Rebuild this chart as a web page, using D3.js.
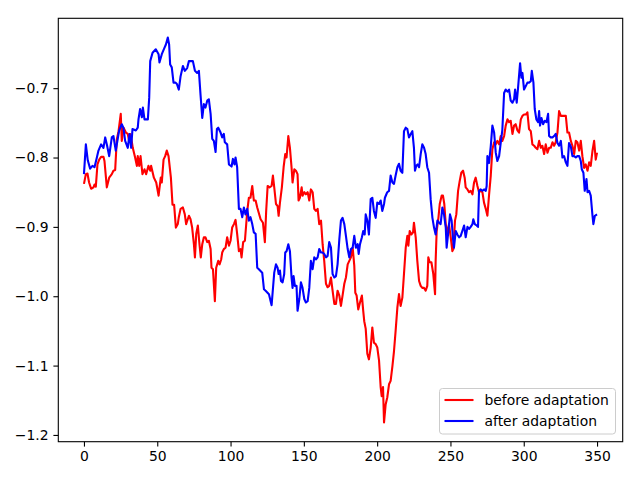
<!DOCTYPE html>
<html>
<head>
<meta charset="utf-8">
<script src="https://cdn.jsdelivr.net/npm/d3@7"></script>
<style>
  body { margin: 0; background: #fff; }
  text { font-family: "DejaVu Sans", sans-serif; }
</style>
</head>
<body>
<div id="chart"></div>
<script>
// red series
var beforeX = [0,1.3,2.4,3.5,4.9,6.5,7.2,8.1,9.2,10.4,11.7,13.3,14.0,15.6,17.2,19.0,20.1,21.3,22.4,23.6,25.1,25.8,27.0,28.6,29.9,30.8,31.5,32.7,33.3,34.9,36.1,36.7,37.7,38.6,39.9,41.3,42.4,44.0,45.2,45.8,47.7,49.3,50.9,52.4,53.1,54.3,55.4,56.5,57.7,59.3,60.4,61.5,62.7,64.0,64.7,65.9,67.5,68.8,69.7,71.6,72.7,73.8,75.0,75.7,76.6,77.7,78.8,79.7,80.7,81.8,82.9,84.1,85.2,86.4,87.0,88.0,89.3,90.2,91.6,92.5,93.6,94.3,95.4,96.6,97.7,98.9,100.0,101.1,102.3,103.4,104.5,105.7,106.8,107.5,108.6,109.8,111.4,112.5,113.6,114.8,115.9,117.1,118.2,120.5,122.1,123.4,124.3,125.3,126.6,128.0,128.9,129.8,131.0,132.1,132.8,133.7,135.0,136.2,137.3,138.2,139.4,140.5,141.6,142.3,143.5,144.6,145.7,146.4,147.3,148.5,149.1,150.3,151.4,152.6,153.7,154.8,156.0,157.1,158.2,159.4,160.5,161.7,162.8,163.9,165.1,166.2,167.3,168.5,169.6,170.8,171.9,173.0,174.2,175.3,176.4,177.6,178.7,179.9,181.0,182.1,183.3,184.4,185.1,186.0,187.1,188.3,189.6,190.5,191.2,192.2,193.3,194.4,195.6,196.7,197.8,199.0,200.1,201.3,202.4,203.1,204.0,204.7,205.8,206.9,208.1,209.2,210.4,211.5,212.6,213.8,214.9,216.0,217.2,218.3,219.5,220.6,221.3,222.2,223.3,224.5,225.1,226.3,227.4,228.6,229.7,230.8,232.0,233.1,234.2,234.9,235.8,237.0,238.3,239.5,239.9,240.6,241.8,242.7,244.0,244.9,245.8,246.8,247.9,249.0,250.2,251.3,252.0,253.1,254.0,255.2,256.3,257.4,258.6,259.7,260.4,261.6,262.7,263.8,265.0,266.1,267.2,268.4,269.5,270.7,271.8,272.9,274.1,275.2,276.3,277.5,278.6,279.8,280.9,282.0,283.2,284.3,285.4,286.6,287.7,288.9,290.0,291.1,292.3,293.4,294.5,295.7,296.8,298.0,299.1,300.2,301.4,302.5,303.6,304.8,305.9,307.1,308.2,309.3,310.5,311.6,312.7,313.9,315.0,316.2,317.3,318.4,319.6,320.7,321.8,323.0,324.1,325.3,326.4,327.5,328.7,329.8,330.9,332.1,333.2,334.4,335.5,336.6,337.8,338.9,340.0,341.2,342.3,343.5,344.6,345.7,346.9,348.0,349.1,350.0];
var beforeY = [-0.838,-0.824,-0.823,-0.836,-0.845,-0.843,-0.839,-0.842,-0.810,-0.803,-0.799,-0.799,-0.805,-0.843,-0.829,-0.824,-0.819,-0.818,-0.774,-0.762,-0.737,-0.776,-0.757,-0.764,-0.766,-0.776,-0.766,-0.778,-0.786,-0.800,-0.812,-0.798,-0.812,-0.798,-0.824,-0.817,-0.824,-0.812,-0.819,-0.812,-0.829,-0.836,-0.855,-0.829,-0.836,-0.803,-0.798,-0.790,-0.798,-0.829,-0.868,-0.868,-0.901,-0.896,-0.886,-0.874,-0.872,-0.882,-0.896,-0.884,-0.889,-0.901,-0.925,-0.944,-0.910,-0.898,-0.925,-0.944,-0.925,-0.915,-0.915,-0.922,-0.920,-0.932,-0.959,-0.961,-1.007,-0.959,-0.949,-0.954,-0.947,-0.937,-0.932,-0.930,-0.915,-0.927,-0.920,-0.901,-0.896,-0.890,-0.910,-0.935,-0.932,-0.944,-0.922,-0.920,-0.877,-0.858,-0.858,-0.841,-0.862,-0.862,-0.872,-0.889,-0.894,-0.922,-0.877,-0.841,-0.843,-0.841,-0.826,-0.843,-0.867,-0.870,-0.884,-0.865,-0.843,-0.814,-0.795,-0.800,-0.769,-0.786,-0.814,-0.836,-0.817,-0.819,-0.824,-0.862,-0.858,-0.843,-0.855,-0.850,-0.853,-0.850,-0.862,-0.846,-0.850,-0.874,-0.877,-0.874,-0.896,-0.891,-0.925,-0.949,-0.982,-0.987,-0.985,-0.973,-0.992,-1.011,-1.011,-0.992,-0.999,-1.014,-0.999,-0.982,-0.973,-0.954,-0.949,-0.944,-0.930,-0.956,-0.995,-0.999,-1.019,-1.009,-0.999,-1.021,-1.036,-1.047,-1.083,-1.091,-1.074,-1.045,-1.067,-1.069,-1.074,-1.093,-1.131,-1.144,-1.131,-1.182,-1.156,-1.146,-1.127,-1.122,-1.101,-1.079,-1.050,-1.016,-0.997,-1.014,-1.002,-0.968,-0.930,-0.913,-0.927,-0.906,-0.911,-0.908,-0.894,-0.915,-0.949,-0.978,-0.985,-0.988,-0.988,-0.992,-0.985,-0.944,-0.951,-0.951,-0.968,-0.997,-0.949,-0.906,-0.887,-0.867,-0.855,-0.855,-0.867,-0.896,-0.911,-0.896,-0.915,-0.935,-0.932,-0.891,-0.882,-0.848,-0.834,-0.822,-0.819,-0.829,-0.843,-0.846,-0.850,-0.848,-0.853,-0.836,-0.829,-0.841,-0.850,-0.848,-0.850,-0.865,-0.874,-0.884,-0.855,-0.826,-0.788,-0.778,-0.781,-0.776,-0.781,-0.769,-0.776,-0.769,-0.754,-0.745,-0.749,-0.747,-0.766,-0.754,-0.752,-0.761,-0.764,-0.745,-0.740,-0.738,-0.738,-0.735,-0.759,-0.762,-0.781,-0.783,-0.786,-0.788,-0.776,-0.786,-0.783,-0.795,-0.781,-0.793,-0.786,-0.786,-0.778,-0.783,-0.778,-0.764,-0.733,-0.740,-0.740,-0.740,-0.740,-0.764,-0.764,-0.776,-0.783,-0.795,-0.776,-0.778,-0.790,-0.776,-0.798,-0.815,-0.810,-0.819,-0.807,-0.812,-0.790,-0.776,-0.803,-0.793];

// blue series
var afterX = [0,1.3,2.6,4.2,5.8,7.2,8.8,9.9,11.7,13.3,14.5,15.8,17.2,19.0,20.1,21.7,24.0,25.8,26.9,28.1,29.9,31.1,32.2,33.1,35.4,36.7,37.2,38.3,39.5,40.2,41.3,43.6,44.5,45.2,46.8,49.0,50.9,51.5,53.1,54.9,55.9,57.2,58.1,58.8,59.9,61.1,62.5,63.4,64.7,65.9,67.5,68.8,70.4,71.6,74.3,75.7,77.2,78.4,79.5,80.7,81.8,82.9,84.1,85.2,86.4,87.5,88.6,89.8,90.7,91.6,93.2,94.3,95.4,96.1,97.7,98.9,100.7,101.6,102.7,103.4,104.5,105.7,106.8,108.0,109.1,110.2,111.4,112.5,113.6,114.8,115.9,117.1,118.2,119.3,121.6,122.8,123.9,126.2,128.0,129.8,131.0,132.1,132.8,133.7,134.4,135.5,136.6,137.3,138.2,139.4,140.5,141.6,142.3,143.0,143.9,145.0,145.7,146.9,148.0,149.1,150.3,151.4,152.6,153.7,154.8,156.0,157.1,158.2,159.4,160.5,161.7,162.8,163.9,165.1,166.2,167.3,168.5,169.6,170.8,171.9,173.0,174.2,175.3,176.4,177.6,178.7,179.9,181.0,182.1,183.3,184.4,185.5,186.7,187.4,188.3,189.6,190.5,191.5,192.2,193.3,194.4,195.6,196.7,197.8,199.0,200.1,201.3,202.4,203.5,204.7,205.3,206.3,206.9,208.1,209.2,210.4,211.5,212.6,213.8,214.9,216.0,217.2,218.3,219.5,220.6,221.7,222.9,224.0,225.1,225.8,226.7,227.6,228.6,229.7,230.8,232.0,233.1,234.2,235.4,236.5,237.7,238.8,239.9,241.1,242.2,243.3,244.5,245.6,246.8,247.4,248.6,249.7,250.8,251.8,252.4,253.6,254.7,255.9,257.0,258.1,259.3,260.4,261.6,262.7,263.8,265.0,265.6,266.6,267.9,268.8,269.5,270.7,271.8,272.9,274.1,274.7,275.2,276.3,277.5,278.6,279.8,280.9,282.0,283.2,284.3,285.4,286.6,287.7,288.9,290.0,291.1,292.3,293.4,294.1,295.2,296.1,297.5,298.4,299.1,300.2,301.4,302.5,303.6,304.8,305.5,306.6,307.5,308.6,309.8,310.5,311.1,312.1,313.2,314.3,315.5,316.6,317.3,318.4,319.6,320.7,321.8,323.0,324.1,325.3,326.4,327.5,328.7,329.8,330.9,332.1,333.2,334.4,335.5,336.6,337.8,338.9,339.6,340.7,341.6,342.8,343.5,344.6,345.7,346.9,347.5,348.5,350.0];
var afterY = [-0.824,-0.781,-0.804,-0.816,-0.812,-0.814,-0.800,-0.790,-0.781,-0.786,-0.771,-0.783,-0.798,-0.771,-0.769,-0.790,-0.761,-0.752,-0.757,-0.776,-0.786,-0.766,-0.786,-0.759,-0.761,-0.757,-0.745,-0.730,-0.742,-0.728,-0.745,-0.745,-0.714,-0.661,-0.649,-0.644,-0.651,-0.663,-0.651,-0.642,-0.637,-0.627,-0.637,-0.666,-0.670,-0.692,-0.692,-0.694,-0.702,-0.683,-0.668,-0.675,-0.671,-0.661,-0.661,-0.675,-0.678,-0.675,-0.709,-0.743,-0.723,-0.728,-0.718,-0.716,-0.737,-0.773,-0.776,-0.792,-0.759,-0.757,-0.764,-0.771,-0.766,-0.778,-0.781,-0.810,-0.813,-0.802,-0.810,-0.800,-0.814,-0.874,-0.874,-0.886,-0.872,-0.882,-0.874,-0.891,-0.886,-0.896,-0.908,-0.910,-0.959,-0.961,-0.966,-0.990,-0.992,-0.997,-1.013,-0.966,-0.954,-0.959,-0.968,-0.963,-0.978,-0.980,-0.968,-0.937,-0.935,-0.925,-0.935,-0.973,-0.988,-0.971,-0.985,-0.985,-1.021,-1.004,-0.980,-0.988,-1.004,-1.009,-1.007,-0.988,-0.949,-0.961,-0.944,-0.947,-0.944,-0.932,-0.937,-0.937,-0.939,-0.944,-0.942,-0.922,-0.930,-0.968,-0.973,-0.971,-0.954,-0.918,-0.891,-0.887,-0.896,-0.913,-0.932,-0.944,-0.932,-0.930,-0.913,-0.930,-0.925,-0.939,-0.925,-0.915,-0.906,-0.911,-0.882,-0.891,-0.911,-0.860,-0.858,-0.877,-0.887,-0.865,-0.867,-0.862,-0.877,-0.867,-0.858,-0.853,-0.850,-0.848,-0.826,-0.836,-0.838,-0.826,-0.814,-0.809,-0.819,-0.822,-0.762,-0.757,-0.759,-0.771,-0.766,-0.762,-0.786,-0.819,-0.812,-0.810,-0.814,-0.795,-0.781,-0.786,-0.795,-0.814,-0.822,-0.860,-0.887,-0.901,-0.911,-0.891,-0.894,-0.896,-0.872,-0.882,-0.901,-0.930,-0.906,-0.882,-0.891,-0.918,-0.930,-0.906,-0.911,-0.915,-0.913,-0.906,-0.898,-0.915,-0.900,-0.903,-0.900,-0.896,-0.889,-0.896,-0.898,-0.900,-0.848,-0.846,-0.848,-0.846,-0.848,-0.841,-0.798,-0.808,-0.784,-0.754,-0.764,-0.793,-0.805,-0.798,-0.779,-0.760,-0.707,-0.702,-0.705,-0.702,-0.718,-0.721,-0.716,-0.702,-0.721,-0.700,-0.664,-0.685,-0.678,-0.702,-0.697,-0.692,-0.692,-0.690,-0.675,-0.692,-0.730,-0.745,-0.749,-0.733,-0.754,-0.743,-0.752,-0.747,-0.749,-0.737,-0.769,-0.771,-0.771,-0.769,-0.766,-0.779,-0.783,-0.776,-0.800,-0.798,-0.807,-0.812,-0.779,-0.784,-0.798,-0.798,-0.800,-0.798,-0.798,-0.805,-0.817,-0.822,-0.848,-0.831,-0.850,-0.848,-0.855,-0.884,-0.896,-0.884,-0.882];

var seriesNames = ['before adaptation', 'after adaptation'];
var seriesColors = ['#ff0000', '#0000ff'];
var xTicks = [0, 50, 100, 150, 200, 250, 300, 350];
var yTicks = [-1.2, -1.1, -1.0, -0.9, -0.8, -0.7];

var width = 640, height = 480;
// plot box (window.top is taken, so no plain "top" here)
var plotLeft = 58.3, plotRight = 622.7, plotTop = 18.3, plotBottom = 441.7;

var series = [
  {name: seriesNames[0], color: seriesColors[0], pts: beforeX.map(function(x, i) { return [x, beforeY[i]]; })},
  {name: seriesNames[1], color: seriesColors[1], pts: afterX.map(function(x, i) { return [x, afterY[i]]; })}
];

// matplotlib-style 5% margins on both axes
function padded(ext) {
  var d = (ext[1] - ext[0]) * 0.05;
  return [ext[0] - d, ext[1] + d];
}
var xExt = d3.extent(beforeX.concat(afterX));
var yExt = d3.extent(beforeY.concat(afterY));

var x = d3.scaleLinear().domain(padded(xExt)).range([plotLeft, plotRight]);
var y = d3.scaleLinear().domain(padded(yExt)).range([plotBottom, plotTop]);

var svg = d3.select('#chart').append('svg')
    .attr('width', width)
    .attr('height', height);

svg.append('rect').attr('width', width).attr('height', height).attr('fill', '#fff');

svg.append('clipPath').attr('id', 'clip')
  .append('rect')
    .attr('x', plotLeft).attr('y', plotTop)
    .attr('width', plotRight - plotLeft).attr('height', plotBottom - plotTop);

var line = d3.line()
    .x(function(d) { return x(d[0]); })
    .y(function(d) { return y(d[1]); });

svg.append('g').attr('clip-path', 'url(#clip)')
  .selectAll('path')
  .data(series)
  .enter().append('path')
    .attr('d', function(d) { return line(d.pts); })
    .attr('fill', 'none')
    .attr('stroke', function(d) { return d.color; })
    .attr('stroke-width', 2.1)
    .attr('stroke-linejoin', 'round');

/* axes */
var xAxis = svg.append('g')
    .attr('transform', 'translate(0,' + plotBottom + ')')
    .call(d3.axisBottom(x).tickValues(xTicks).tickFormat(d3.format('d')).tickSize(4.9).tickPadding(4.9));

var yAxis = svg.append('g')
    .attr('transform', 'translate(' + plotLeft + ',0)')
    .call(d3.axisLeft(y).tickValues(yTicks).tickFormat(d3.format('.1f')).tickSize(4.9).tickPadding(4.9));

[xAxis, yAxis].forEach(function(ax) {
  ax.select('.domain').remove();
  ax.selectAll('line').attr('stroke', '#000').attr('stroke-width', 1.1);
  ax.selectAll('text')
    .attr('fill', '#000')
    .style('font-family', '"DejaVu Sans", sans-serif')
    .style('font-size', '13.9px');
});

// frame
svg.append('rect')
    .attr('x', plotLeft).attr('y', plotTop)
    .attr('width', plotRight - plotLeft).attr('height', plotBottom - plotTop)
    .attr('fill', 'none')
    .attr('stroke', '#000')
    .attr('stroke-width', 1.1);

/* legend, lower right */
var lg = svg.append('g').attr('transform', 'translate(439.5,388.5)');

lg.append('rect')
    .attr('width', 176).attr('height', 45.5)
    .attr('rx', 3).attr('ry', 3)
    .attr('fill', '#fff').attr('fill-opacity', 0.8)
    .attr('stroke', '#cccccc').attr('stroke-width', 1);

var item = lg.selectAll('g.item')
    .data(series)
    .enter().append('g')
    .attr('class', 'item')
    .attr('transform', function(d, i) { return 'translate(0,' + (11.5 + i * 21) + ')'; });

item.append('line')
    .attr('x1', 5).attr('x2', 34)
    .attr('stroke', function(d) { return d.color; })
    .attr('stroke-width', 2.1);

item.append('text')
    .attr('x', 45)
    .attr('dy', '0.35em')
    .attr('fill', '#000')
    .style('font-size', '13.9px')
    .text(function(d) { return d.name; });
</script>
</body>
</html>
